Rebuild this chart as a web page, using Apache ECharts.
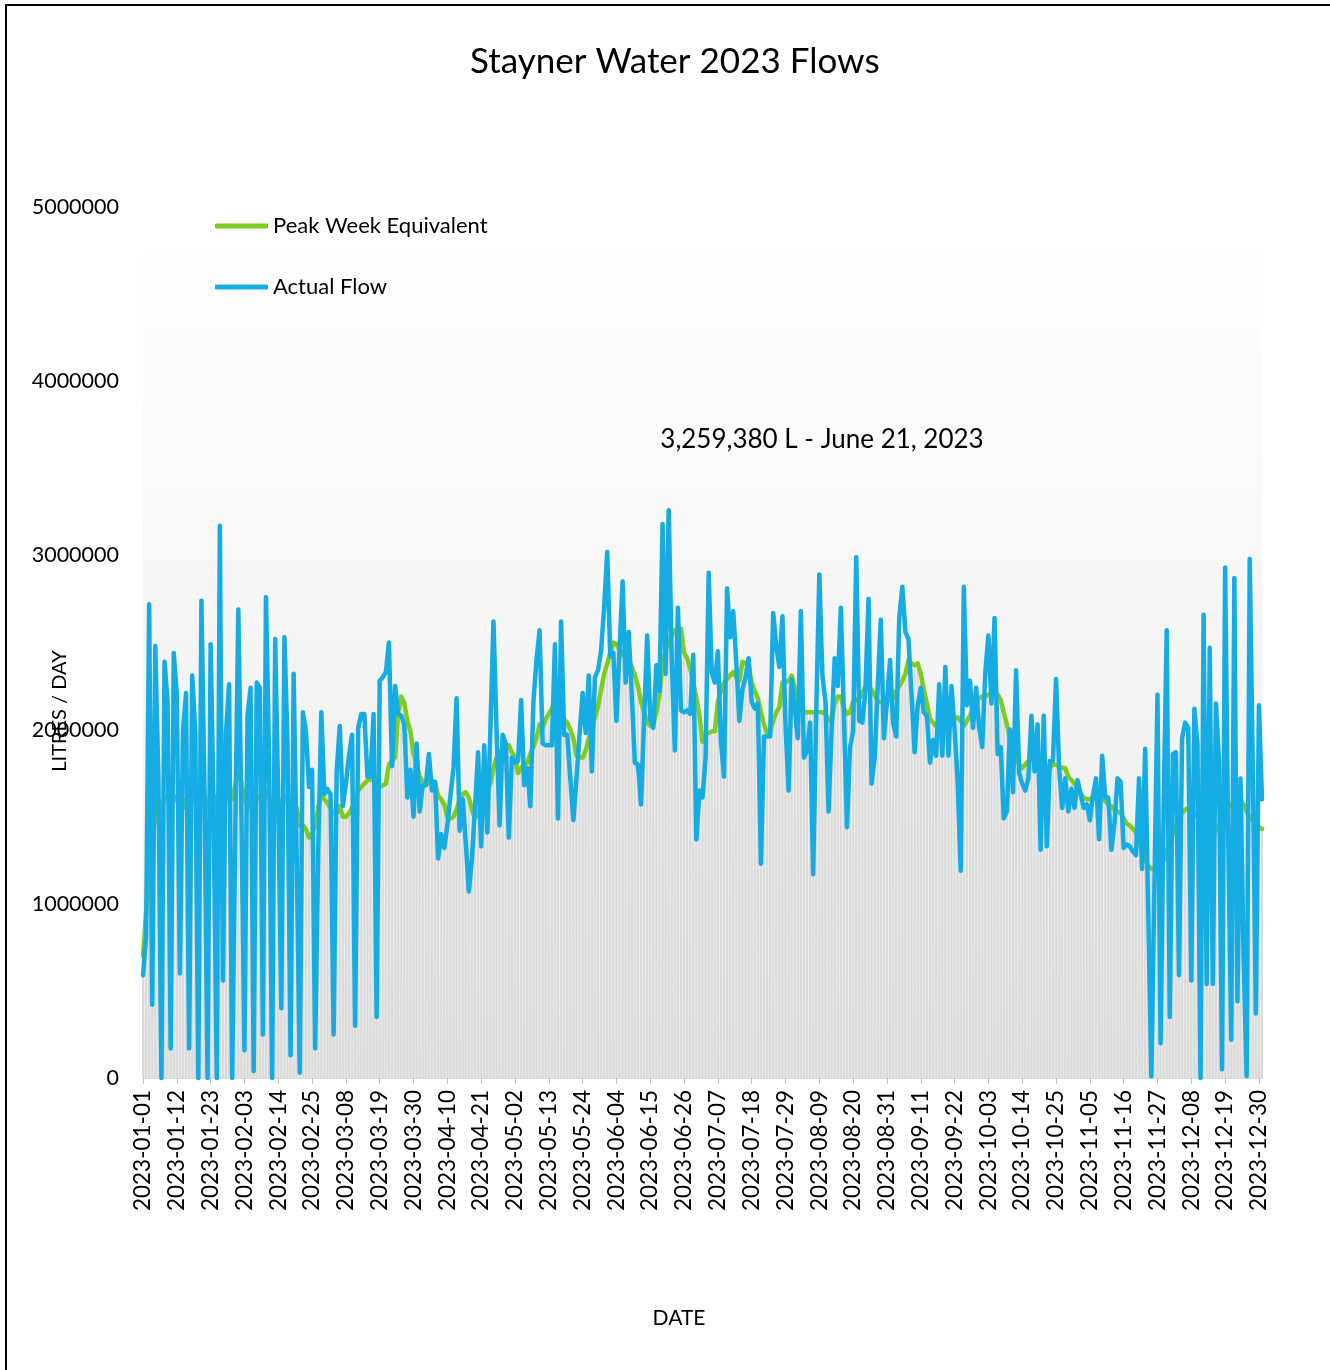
<!DOCTYPE html>
<html lang="en">
<head>
<meta charset="UTF-8">
<title>Stayner Water 2023 Flows</title>
<script src="https://cdn.jsdelivr.net/npm/echarts@6/dist/echarts.min.js"></script>
<style>
  html, body { margin: 0; padding: 0; background: #fff; }
  #chart { width: 1330px; height: 1370px; }
</style>
</head>
<body>
<div id="chart"></div>
<script>
// daily flows, millions of litres per day
var actualFlow = [
  0.59,0.81,2.72,0.42,2.48,1.73,0.0,2.39,2.16,0.17,
  2.44,2.2,0.6,1.99,2.21,0.17,2.31,1.99,0.0,2.74,
  1.65,0.0,2.49,1.5,0.0,3.17,0.56,1.98,2.26,0.0,
  1.4,2.69,1.54,0.16,2.08,2.24,0.04,2.27,2.24,0.25,
  2.76,1.84,0.0,2.52,1.6,0.4,2.53,1.93,0.13,2.32,
  1.26,0.03,2.1,1.99,1.67,1.77,0.17,1.3,2.1,1.63,
  1.66,1.63,0.25,1.76,2.02,1.56,1.69,1.85,1.97,0.3,
  2.01,2.09,2.09,1.73,1.73,2.09,0.35,2.28,2.3,2.33,
  2.5,1.79,2.25,2.09,2.08,2.03,1.61,1.77,1.5,1.92,
  1.53,1.68,1.68,1.86,1.65,1.7,1.26,1.4,1.32,1.45,
  1.62,1.78,2.18,1.42,1.6,1.35,1.07,1.26,1.55,1.87,
  1.33,1.91,1.41,2.0,2.62,2.0,1.45,1.97,1.92,1.38,
  1.84,1.81,1.82,2.17,1.68,1.78,1.56,2.16,2.4,2.57,
  1.92,1.91,1.91,1.91,2.49,1.49,2.62,1.97,1.97,1.72,
  1.48,1.72,1.97,2.21,1.98,2.31,1.76,2.3,2.34,2.45,
  2.7,3.02,2.42,2.44,2.05,2.45,2.85,2.27,2.56,2.2,
  1.81,1.8,1.57,2.05,2.54,2.06,2.01,2.37,2.22,3.18,
  2.32,3.25938,2.4,1.88,2.7,2.11,2.1,2.11,2.09,2.43,
  1.37,1.65,1.61,1.84,2.9,2.33,2.27,2.45,1.93,1.73,
  2.81,2.53,2.68,2.38,2.05,2.23,2.3,2.41,2.16,2.12,
  2.15,1.23,1.96,1.96,1.96,2.67,2.48,2.36,2.65,2.03,
  1.65,2.29,2.12,1.95,2.68,1.84,1.88,2.04,1.17,2.1,
  2.89,2.31,2.16,1.53,2.0,2.41,2.25,2.7,2.08,1.44,
  1.9,1.99,2.99,2.05,2.04,2.23,2.75,1.69,1.84,2.25,
  2.63,1.95,2.16,2.4,2.04,1.96,2.64,2.82,2.56,2.52,
  2.2,1.87,2.14,2.24,2.1,2.08,1.81,1.94,1.85,2.26,
  1.85,2.36,1.85,2.25,2.0,1.7,1.19,2.82,2.14,2.28,
  2.01,2.24,2.01,1.9,2.33,2.54,2.15,2.64,1.86,1.9,
  1.49,1.53,2.0,1.64,2.34,1.75,1.69,1.65,1.72,2.08,
  1.76,2.03,1.31,2.08,1.33,1.82,1.82,2.29,1.78,1.55,
  1.72,1.53,1.66,1.55,1.71,1.63,1.55,1.57,1.48,1.62,
  1.72,1.37,1.85,1.61,1.61,1.31,1.46,1.72,1.7,1.32,
  1.34,1.33,1.3,1.28,1.72,1.2,1.89,0.95,0.01,1.1,
  2.2,0.2,1.54,2.57,0.35,1.86,1.87,0.59,1.95,2.04,
  2.01,0.56,2.12,1.92,0.0,2.66,0.54,2.47,0.54,2.15,
  1.82,0.05,2.93,1.38,0.22,2.87,0.44,1.72,0.71,0.01,
  2.98,1.78,0.37,2.14,1.6
];

var peakWeek = [
  0.7,0.95,1.2,1.35,1.5,1.6,1.55,1.6,1.62,1.58,
  1.62,1.6,1.55,1.55,1.6,1.55,1.58,1.6,1.55,1.62,
  1.62,1.55,1.6,1.62,1.55,1.65,1.6,1.6,1.65,1.6,
  1.68,1.75,1.7,1.6,1.55,1.6,1.55,1.6,1.62,1.58,
  1.65,1.62,1.55,1.6,1.6,1.55,1.6,1.62,1.55,1.58,
  1.55,1.45,1.45,1.43,1.38,1.4,1.45,1.55,1.63,1.6,
  1.58,1.55,1.52,1.52,1.56,1.5,1.5,1.52,1.55,1.6,
  1.65,1.67,1.69,1.71,1.71,1.72,1.7,1.67,1.68,1.69,
  1.8,1.82,1.84,2.1,2.19,2.15,2.05,1.99,1.86,1.8,
  1.73,1.7,1.68,1.7,1.7,1.7,1.62,1.6,1.57,1.5,
  1.49,1.5,1.54,1.6,1.63,1.64,1.61,1.54,1.49,1.52,
  1.56,1.61,1.65,1.69,1.78,1.84,1.86,1.9,1.91,1.91,
  1.87,1.84,1.75,1.78,1.8,1.81,1.86,1.9,1.95,2.03,
  2.01,2.06,2.09,2.12,2.16,2.14,2.12,2.06,2.04,2.0,
  1.95,1.85,1.84,1.84,1.88,1.95,2.01,2.07,2.13,2.23,
  2.32,2.38,2.44,2.5,2.49,2.46,2.43,2.41,2.4,2.36,
  2.31,2.25,2.16,2.1,2.04,2.02,2.03,2.1,2.2,2.38,
  2.45,2.51,2.54,2.57,2.58,2.58,2.44,2.41,2.35,2.27,
  2.18,2.08,1.93,1.98,1.98,1.99,1.99,2.16,2.22,2.27,
  2.29,2.31,2.33,2.3,2.28,2.39,2.38,2.37,2.27,2.22,
  2.18,2.1,2.03,1.98,1.99,2.05,2.1,2.13,2.27,2.27,
  2.28,2.31,2.24,2.18,2.12,2.1,2.1,2.1,2.1,2.1,
  2.1,2.1,2.09,2.06,2.04,2.15,2.19,2.19,2.12,2.09,
  2.1,2.16,2.17,2.18,2.21,2.25,2.24,2.23,2.2,2.16,
  2.16,2.16,2.16,2.17,2.18,2.22,2.25,2.28,2.32,2.4,
  2.38,2.37,2.38,2.32,2.23,2.15,2.06,2.04,2.02,2.01,
  2.0,2.0,2.02,2.04,2.06,2.07,2.05,2.02,2.05,2.08,
  2.12,2.16,2.18,2.19,2.19,2.2,2.21,2.22,2.2,2.17,
  2.1,2.03,1.95,1.9,1.84,1.8,1.78,1.8,1.82,1.84,
  1.82,1.8,1.8,1.8,1.79,1.78,1.8,1.8,1.79,1.78,
  1.78,1.73,1.71,1.69,1.66,1.63,1.61,1.6,1.6,1.61,
  1.61,1.61,1.61,1.59,1.57,1.56,1.54,1.53,1.52,1.49,
  1.46,1.45,1.43,1.41,1.36,1.3,1.25,1.22,1.2,1.2,
  1.22,1.2,1.25,1.3,1.35,1.4,1.45,1.5,1.52,1.54,
  1.55,1.53,1.52,1.5,1.5,1.48,1.45,1.42,1.4,1.42,
  1.45,1.48,1.5,1.55,1.57,1.58,1.6,1.6,1.57,1.53,
  1.5,1.48,1.45,1.44,1.43
];

var yTicks = [0, 1000000, 2000000, 3000000, 4000000, 5000000];

// one category per day of 2023
var dates = [];
for (var i = 0; i < actualFlow.length; i++) {
  var d = new Date(Date.UTC(2023, 0, 1 + i));
  dates.push(d.toISOString().slice(0, 10));
}

var FONT = 'Lato';
var BLUE = '#14ACE3';
var GREEN = '#7DCC1F';

var chart = echarts.init(document.getElementById('chart'));

var option = {
  animation: false,
  textStyle: { fontFamily: FONT, color: '#000' },
  title: {
    text: 'Stayner Water 2023 Flows',
    left: 465,
    top: 39,
    textStyle: { fontFamily: FONT, fontSize: 35, fontWeight: 'normal', color: '#000' }
  },
  legend: {
    data: ['Peak Week Equivalent', 'Actual Flow'],
    orient: 'vertical',
    left: 210,
    top: 210,
    icon: 'roundRect',
    itemWidth: 53,
    itemHeight: 5,
    itemGap: 39,
    textStyle: { fontFamily: FONT, fontSize: 22, color: '#000' }
  },
  grid: { left: 143, right: 68, top: 207, bottom: 292 },
  xAxis: {
    type: 'category',
    data: dates,
    boundaryGap: false,
    axisLine: { lineStyle: { color: '#d9d9d9' } },
    axisTick: { show: true, interval: 10, length: 6, lineStyle: { color: '#bfbfbf' } },
    axisLabel: { interval: 10, rotate: 90, margin: 12, fontSize: 22.5, color: '#000', fontFamily: FONT }
  },
  yAxis: {
    type: 'value',
    min: yTicks[0],
    max: yTicks[yTicks.length - 1],
    interval: 1000000,
    axisLine: { show: false },
    axisTick: { show: false },
    splitLine: { show: false },
    axisLabel: {
      margin: 24, fontSize: 21.5, color: '#000', fontFamily: FONT,
      formatter: function (v) { return String(v); }
    }
  },
  series: [
    {
      name: 'Peak Week Bars',
      type: 'bar',
      data: peakWeek.map(function (v) { return v * 1e6; }),
      barCategoryGap: '35%',
      itemStyle: { color: '#dadada' },
      silent: true
    },
    {
      name: 'Peak Week Equivalent',
      type: 'line',
      data: peakWeek.map(function (v) { return v * 1e6; }),
      symbol: 'none',
      itemStyle: { color: GREEN },
      lineStyle: { color: GREEN, width: 4.5, cap: 'round', join: 'round' }
    },
    {
      name: 'Actual Flow',
      type: 'line',
      data: actualFlow.map(function (v) { return Math.round(v * 1e6); }),
      symbol: 'none',
      itemStyle: { color: BLUE },
      lineStyle: { color: BLUE, width: 4.5, cap: 'round', join: 'round' }
    }
  ],
  graphic: [
    {
      type: 'rect', z: 0, silent: true,
      shape: { x: 143, y: 245, width: 1119, height: 833 },
      style: {
        fill: new echarts.graphic.LinearGradient(0, 0, 0, 1, [
          { offset: 0, color: '#ffffff' },
          { offset: 1, color: '#eaeaea' }
        ])
      }
    },
    {
      type: 'rect', z: 100, silent: true,
      shape: { x: 6, y: 5, width: 1400, height: 1400 },
      style: { fill: 'none', stroke: '#000', lineWidth: 2 }
    },
    {
      type: 'text', z: 100, x: 60, y: 711, rotation: Math.PI / 2,
      style: { text: 'LITRES / DAY', fontFamily: FONT, fontSize: 20, fill: '#000', align: 'center', verticalAlign: 'middle' }
    },
    {
      type: 'text', z: 100, x: 679, y: 1318,
      style: { text: 'DATE', fontFamily: FONT, fontSize: 21, fill: '#000', align: 'center', verticalAlign: 'middle' }
    },
    {
      type: 'text', z: 100, x: 822, y: 440,
      style: { text: '3,259,380 L - June 21, 2023', fontFamily: FONT, fontSize: 26, fill: '#000', align: 'center', verticalAlign: 'middle' }
    }
  ]
};

chart.setOption(option);
</script>
</body>
</html>
